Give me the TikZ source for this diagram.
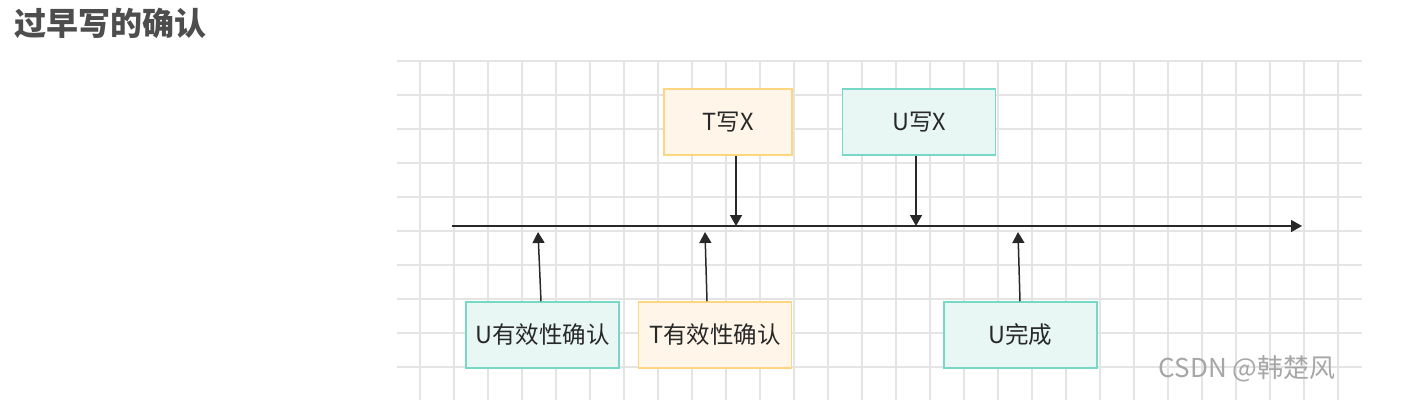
\documentclass[tikz,border=0pt]{standalone}
\usepackage{fontspec}
\newfontfamily\cjk{Noto Sans CJK SC}
\definecolor{gridgray}{RGB}{228, 228, 228}
\definecolor{inkgray}{RGB}{40, 40, 40}
\definecolor{titlegray}{RGB}{77, 77, 77}
\definecolor{tfill}{RGB}{255, 245, 232}
\definecolor{tline}{RGB}{255, 214, 128}
\definecolor{ufill}{RGB}{232, 247, 244}
\definecolor{uline}{RGB}{120, 216, 200}
\usepackage{tikz}
\usetikzlibrary{arrows.meta, positioning}

\begin{document}
\begin{tikzpicture}[x=1pt, y=-1pt,
  txbox/.style={draw=tline, fill=tfill, line width=1.5pt, inner sep=0pt,
    minimum height=66pt, minimum width=153pt, text=inkgray, font=\cjk\fontsize{23.5}{26}\selectfont},
  uxbox/.style={txbox, draw=uline, fill=ufill},
  event/.style={-{Triangle[width=12pt, length=11pt]}, line width=1.5pt, inkgray}]
  \useasboundingbox (0,0) rectangle (1405,409);

  % Title
  \node[anchor=west, inner sep=0pt, text=titlegray, font=\cjk\bfseries\fontsize{32}{36}\selectfont] (title) at (14, 23) {过早写的确认};

  % Grid
  \foreach \i in {0,...,27}
    \draw[gridgray, line width=1.5pt] ({420+34*\i}, 60) -- ({420+34*\i}, 400);
  \foreach \j in {0,...,9}
    \draw[gridgray, line width=1.5pt] (397, {61+34*\j}) -- (1362, {61+34*\j});

  % Time axis
  \coordinate (t0) at (452, 226);
  \coordinate (t1) at (1302, 226);
  \draw[event] (t0) -- (t1);

  % Writes
  \node[txbox, minimum width=128pt] (tw) at (728, 122) {T写X};
  \node[uxbox] (uw) at (919, 122) {U写X};
  \coordinate (twhit) at (736, 226);
  \coordinate (uwhit) at (916, 226);
  \draw[event] ([xshift=8pt]tw.south) -- (twhit);
  \draw[event] ([xshift=-3pt]uw.south) -- (uwhit);

  % Validations and finish
  \node[uxbox] (uv) at (542.5, 335) {U有效性确认};
  \node[txbox] (tv) at (715, 335) {T有效性确认};
  \node[uxbox] (ud) at (1020.5, 335) {U完成};
  \coordinate (uvhit) at (538, 232);
  \coordinate (tvhit) at (705, 232);
  \coordinate (udhit) at (1018, 232);
  \draw[event] ([xshift=-1.5pt]uv.north) -- (uvhit);
  \draw[event] ([xshift=-8pt]tv.north) -- (tvhit);
  \draw[event] ([xshift=-0.5pt]ud.north) -- (udhit);

  % Watermark
  \node[text=gray!70, font=\cjk\fontsize{26}{28}\selectfont] (mark) at (1247, 369) {CSDN @韩楚风};
\end{tikzpicture}
\end{document}
